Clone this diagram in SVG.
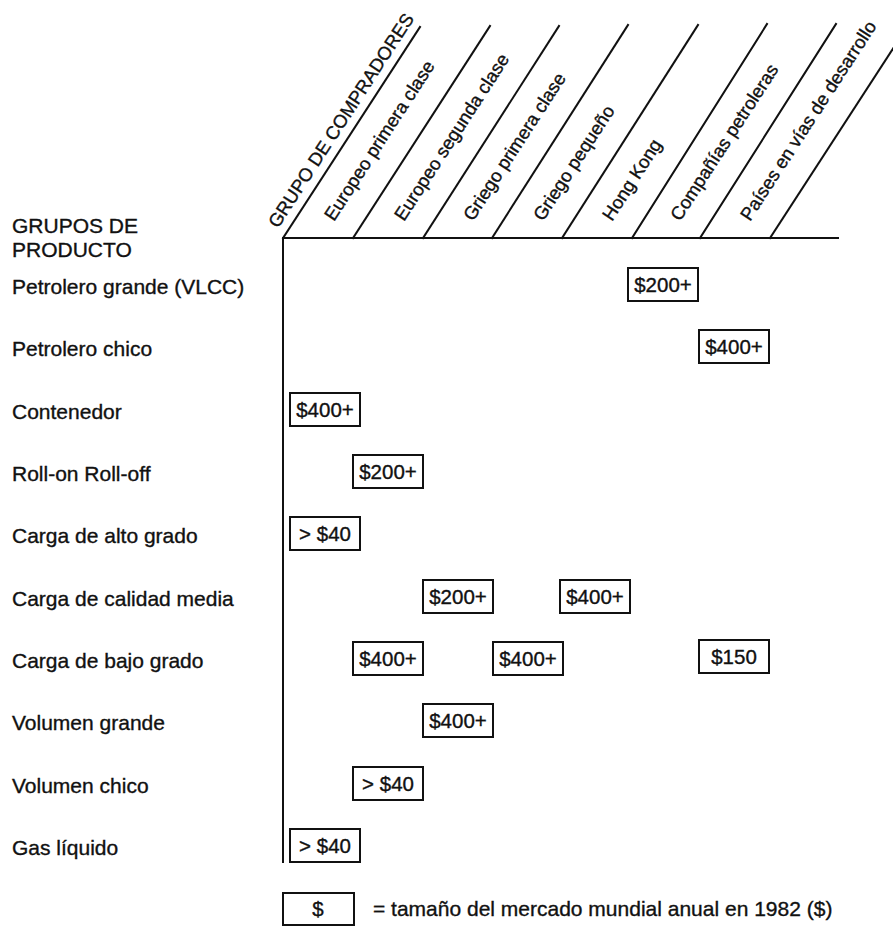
<svg xmlns="http://www.w3.org/2000/svg" width="893" height="928" viewBox="0 0 893 928">
<style>
text{font-family:"Liberation Sans",Arial,sans-serif;fill:#111;stroke:#111;stroke-width:0.35}
.row{font-size:21px}
.col{font-size:18.5px}
.val{font-size:20.5px;text-anchor:middle}
.box{fill:#fff;stroke:#111;stroke-width:2}
.ln{stroke:#111;stroke-width:2;fill:none;stroke-linecap:square}
</style>
<rect width="893" height="928" fill="#fff"/>
<g id="grid">
<line class="ln" x1="283" y1="238" x2="283" y2="862"/>
<line class="ln" x1="283" y1="238" x2="838" y2="238"/>
<line class="ln" x1="283" y1="238" x2="420" y2="27"/>
<line class="ln" x1="353" y1="238" x2="490" y2="26"/>
<line class="ln" x1="423" y1="238" x2="559" y2="26"/>
<line class="ln" x1="492" y1="238" x2="628" y2="25"/>
<line class="ln" x1="562" y1="238" x2="698" y2="25"/>
<line class="ln" x1="632" y1="238" x2="767" y2="24"/>
<line class="ln" x1="700" y1="238" x2="836" y2="24"/>
<line class="ln" x1="770" y1="238" x2="907" y2="27"/>
</g>
<g id="column-labels">
<text class="col" transform="translate(278,229) rotate(-57)">GRUPO DE COMPRADORES</text>
<text class="col" transform="translate(334,222) rotate(-57)">Europeo primera clase</text>
<text class="col" transform="translate(404,222) rotate(-57)">Europeo segunda clase</text>
<text class="col" transform="translate(473,222) rotate(-57)">Griego primera clase</text>
<text class="col" transform="translate(543,222) rotate(-57)">Griego pequeño</text>
<text class="col" transform="translate(612,222) rotate(-57)">Hong Kong</text>
<text class="col" transform="translate(680,222) rotate(-57)">Compañías petroleras</text>
<text class="col" transform="translate(750,222) rotate(-57)">Países en vías de desarrollo</text>
</g>
<g id="row-labels">
<text class="row" x="12" y="233">GRUPOS DE</text>
<text class="row" x="12" y="257">PRODUCTO</text>
<text class="row" x="12" y="294">Petrolero grande (VLCC)</text>
<text class="row" x="12" y="356">Petrolero chico</text>
<text class="row" x="12" y="419">Contenedor</text>
<text class="row" x="12" y="481">Roll-on Roll-off</text>
<text class="row" x="12" y="543">Carga de alto grado</text>
<text class="row" x="12" y="606">Carga de calidad media</text>
<text class="row" x="12" y="668">Carga de bajo grado</text>
<text class="row" x="12" y="730">Volumen grande</text>
<text class="row" x="12" y="793">Volumen chico</text>
<text class="row" x="12" y="855">Gas líquido</text>
</g>
<g id="cell-vlcc-hk"><rect class="box" x="628" y="268" width="70" height="33"/><text class="val" x="663" y="292">$200+</text></g>
<g id="cell-chico-cp"><rect class="box" x="699" y="330" width="70" height="33"/><text class="val" x="734" y="354">$400+</text></g>
<g id="cell-cont-ep"><rect class="box" x="290" y="393" width="70" height="33"/><text class="val" x="325" y="417">$400+</text></g>
<g id="cell-roro-es"><rect class="box" x="353" y="455" width="70" height="33"/><text class="val" x="388" y="479">$200+</text></g>
<g id="cell-alto-ep"><rect class="box" x="290" y="517" width="70" height="33"/><text class="val" x="325" y="541">&gt; $40</text></g>
<g id="cell-media-gp"><rect class="box" x="423" y="580" width="70" height="33"/><text class="val" x="458" y="604">$200+</text></g>
<g id="cell-media-hk"><rect class="box" x="560" y="580" width="70" height="33"/><text class="val" x="595" y="604">$400+</text></g>
<g id="cell-bajo-es"><rect class="box" x="353" y="642" width="70" height="33"/><text class="val" x="388" y="666">$400+</text></g>
<g id="cell-bajo-gq"><rect class="box" x="493" y="642" width="70" height="33"/><text class="val" x="528" y="666">$400+</text></g>
<g id="cell-bajo-pd"><rect class="box" x="699" y="640" width="70" height="33"/><text class="val" x="734" y="664">$150</text></g>
<g id="cell-volg-gp"><rect class="box" x="423" y="704" width="70" height="33"/><text class="val" x="458" y="728">$400+</text></g>
<g id="cell-volc-es"><rect class="box" x="353" y="767" width="70" height="33"/><text class="val" x="388" y="791">&gt; $40</text></g>
<g id="cell-gas-ep"><rect class="box" x="290" y="829" width="70" height="33"/><text class="val" x="325" y="853">&gt; $40</text></g>
<g id="legend">
<rect class="box" x="283" y="893" width="71" height="32"/>
<text class="val" x="318" y="916">$</text>
<text class="row" x="373" y="916">= tamaño del mercado mundial anual en 1982 ($)</text>
</g>
</svg>
